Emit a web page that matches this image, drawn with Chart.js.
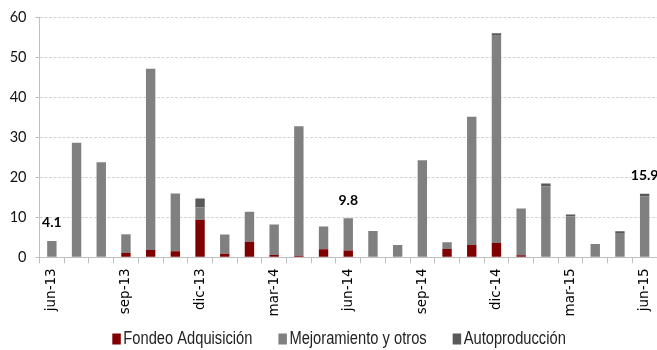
<!DOCTYPE html>
<html>
<head>
<meta charset="utf-8">
<script src="https://cdn.jsdelivr.net/npm/chart.js@4/dist/chart.umd.min.js"></script>
<style>
  html, body { margin: 0; padding: 0; background: #fff; }
  #wrap { width: 657px; height: 350px; }
</style>
</head>
<body>
<div id="wrap"><canvas id="c" width="657" height="350"></canvas></div>
<script>
// Monthly categories, jun-13 .. jun-15
const months = [
  'jun-13','jul-13','ago-13','sep-13','oct-13','nov-13','dic-13',
  'ene-14','feb-14','mar-14','abr-14','may-14','jun-14','jul-14','ago-14','sep-14','oct-14','nov-14','dic-14',
  'ene-15','feb-15','mar-15','abr-15','may-15','jun-15'
];

// Stacked components
const fondeoAdquisicion = [0, 0, 0, 1.1, 1.8, 1.5, 9.4, 0.9, 3.9, 0.6, 0.4, 2.0, 1.7, 0, 0, 0, 2.1, 3.1, 3.6, 0.5, 0, 0, 0, 0, 0];
const mejoramientoOtros = [4.1, 28.7, 23.8, 4.6, 45.4, 14.5, 3.1, 4.8, 7.5, 7.6, 32.4, 5.7, 8.1, 6.6, 3.1, 24.3, 1.7, 32.1, 51.9, 11.7, 17.8, 10.3, 3.3, 6.1, 15.3];
const autoproduccion    = [0, 0, 0, 0.1, 0, 0, 2.2, 0, 0, 0, 0, 0, 0, 0, 0, 0, 0, 0, 0.6, 0, 0.7, 0.4, 0, 0.4, 0.6];

// Months whose total is written above the bar
const labeledMonths = ['jun-13', 'jun-14', 'jun-15'];

// Y axis ticks
const yTicks = [0, 10, 20, 30, 40, 50, 60];

const seriesNames = ['Fondeo Adquisición', 'Mejoramiento y otros', 'Autoproducción'];
const seriesColors = ['#7f0000', '#808080', '#595959'];

// Totals written above selected bars
const totalLabels = {
  id: 'totalLabels',
  afterDatasetsDraw(chart) {
    const ctx = chart.ctx;
    const y = chart.scales.y;
    const meta = chart.getDatasetMeta(0);
    ctx.save();
    ctx.font = 'bold 14px Lato';
    ctx.fillStyle = '#000';
    ctx.textAlign = 'center';
    ctx.textBaseline = 'middle';
    labeledMonths.forEach(m => {
      const i = months.indexOf(m);
      const total = fondeoAdquisicion[i] + mejoramientoOtros[i] + autoproduccion[i];
      const x = meta.data[i].x;
      const py = y.getPixelForValue(total);
      ctx.fillText(total.toFixed(1), x, py - 18);
    });
    ctx.restore();
  }
};

// Compact legend drawn below the axis, in a condensed face
const bottomLegend = {
  id: 'bottomLegend',
  afterDraw(chart) {
    const ctx = chart.ctx;
    const squeeze = 0.84;
    ctx.save();
    ctx.font = '17.5px "Liberation Sans", Arial';
    ctx.textBaseline = 'middle';
    ctx.textAlign = 'left';
    let x = 112.3;
    const cy = 339;
    chart.data.datasets.forEach(ds => {
      ctx.fillStyle = ds.backgroundColor;
      ctx.fillRect(x, cy - 5.5, 8.5, 11);
      x += 8.5 + 2.5;
      ctx.fillStyle = '#222';
      ctx.save();
      ctx.translate(x, cy);
      ctx.scale(squeeze, 1);
      ctx.fillText(ds.label, 0, 0);
      ctx.restore();
      x += ctx.measureText(ds.label).width * squeeze + 26;
    });
    ctx.restore();
  }
};

new Chart(document.getElementById('c'), {
  type: 'bar',
  data: {
    labels: months,
    datasets: [
      { label: seriesNames[0], data: fondeoAdquisicion, backgroundColor: seriesColors[0] },
      { label: seriesNames[1], data: mejoramientoOtros, backgroundColor: seriesColors[1] },
      { label: seriesNames[2], data: autoproduccion, backgroundColor: seriesColors[2] }
    ]
  },
  options: {
    responsive: false,
    animation: false,
    devicePixelRatio: 1,
    layout: { padding: { top: 15.7, right: 0, bottom: 0, left: 0 } },
    datasets: {
      bar: { barPercentage: 0.38, categoryPercentage: 1.0, borderWidth: 0 }
    },
    plugins: {
      legend: { display: false },
      tooltip: { enabled: false }
    },
    scales: {
      x: {
        stacked: true,
        offset: true,
        grid: {
          display: true,
          drawOnChartArea: false,
          drawTicks: true,
          tickLength: 6,
          color: '#bfbfbf',
          offset: true
        },
        border: { display: true, color: '#bfbfbf', width: 1 },
        ticks: {
          autoSkip: false,
          minRotation: 90,
          maxRotation: 90,
          padding: 5,
          color: '#000',
          font: { family: 'DejaVu Sans', size: 13.5 },
          callback: (v, i) => (i % 3 === 0 ? months[i] : '')
        },
        afterFit(s) {
          s.height = 350 - 257.3;
          s.paddingLeft = 0;
          s.paddingRight = 0;
        }
      },
      y: {
        stacked: true,
        min: 0,
        max: 60,
        afterBuildTicks(s) { s.ticks = yTicks.map(v => ({ value: v })); },
        grid: {
          color: '#d4d4d4',
          tickColor: '#bfbfbf',
          drawTicks: true,
          tickLength: 4
        },
        border: { display: true, color: '#bfbfbf', width: 1, dash: [3, 1.5] },
        ticks: {
          padding: 9,
          color: '#111',
          font: { family: 'Lato', size: 14.5 }
        },
        afterFit(s) { s.width = 39.5; }
      }
    }
  },
  plugins: [totalLabels, bottomLegend]
});
</script>
</body>
</html>
